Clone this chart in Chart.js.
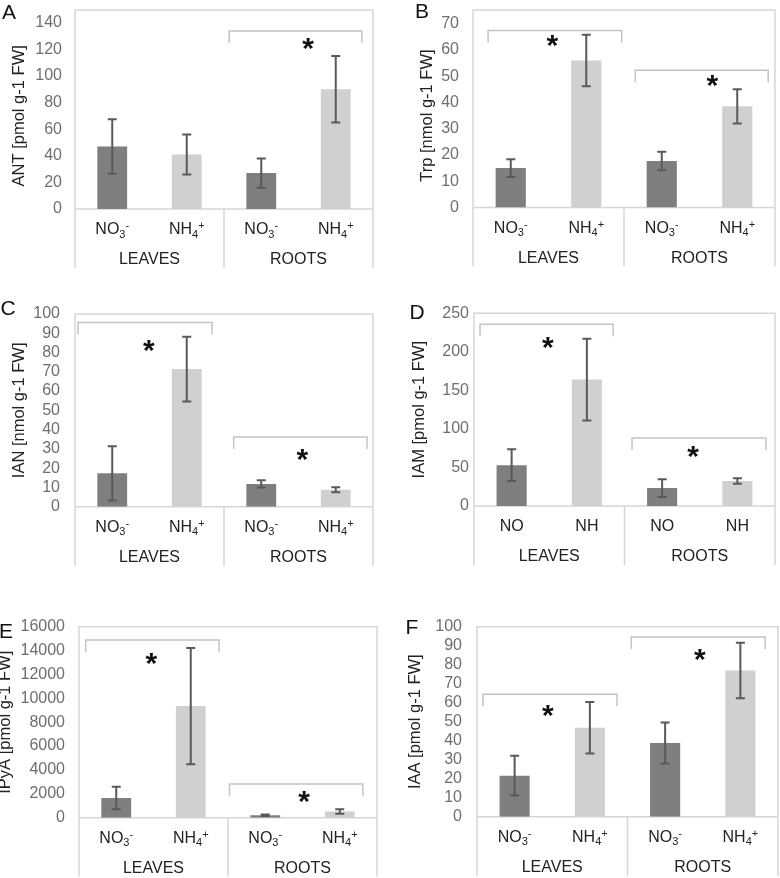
<!DOCTYPE html>
<html><head><meta charset="utf-8">
<script src="https://cdn.jsdelivr.net/npm/chart.js@4.4.1/dist/chart.umd.min.js"></script>
<style>
html,body{margin:0;padding:0;background:#fff;width:780px;height:878px;overflow:hidden}
canvas{position:absolute;left:0;top:0}
</style></head><body>
<canvas id="cA" width="780" height="878"></canvas>
<canvas id="cB" width="780" height="878"></canvas>
<canvas id="cC" width="780" height="878"></canvas>
<canvas id="cD" width="780" height="878"></canvas>
<canvas id="cE" width="780" height="878"></canvas>
<canvas id="cF" width="780" height="878"></canvas>
<script>
// ---- data ----
const categories = ['NO3-', 'NH4+', 'NO3-', 'NH4+'];
const categoriesD = ['NO', 'NH', 'NO', 'NH'];
const groups = ['LEAVES', 'ROOTS'];

const antMean = [47, 41, 27, 90];
const antErr = [20.5, 15, 11, 25];
const trpMean = [15, 56, 17.7, 38.5];
const trpErr = [3.4, 9.8, 3.5, 6.5];
const ianMean = [17.3, 71.4, 11.8, 8.8];
const ianErr = [14.1, 16.8, 1.9, 1.3];
const iamMean = [53, 164, 23.3, 32.4];
const iamErr = [20.5, 53, 11.5, 3.5];
const ipyaMean = [1650, 9350, 200, 520];
const ipyaErr = [950, 4870, 60, 180];
const iaaMean = [21.6, 46.8, 38.8, 77];
const iaaErr = [10.5, 13.6, 10.8, 14.6];

const ticksA = [0, 20, 40, 60, 80, 100, 120, 140];
const ticksB = [0, 10, 20, 30, 40, 50, 60, 70];
const ticksC = [0, 10, 20, 30, 40, 50, 60, 70, 80, 90, 100];
const ticksD = [0, 50, 100, 150, 200, 250];
const ticksE = [0, 2000, 4000, 6000, 8000, 10000, 12000, 14000, 16000];
const ticksF = [0, 10, 20, 30, 40, 50, 60, 70, 80, 90, 100];

// significance brackets [fromIndex, toIndex, yValue] and stars [xIndex, yValue]
const bracketsA = [[1.57, 3.35, 133.7]];
const starsA = [[2.63, 123.8]];
const bracketsB = [[-0.30, 1.47, 67.4], [1.65, 3.41, 52.2]];
const starsB = [[0.55, 63.2], [2.67, 48.1]];
const bracketsC = [[-0.46, 1.34, 95.6], [1.63, 3.42, 36.2]];
const starsC = [[0.49, 83.2], [2.55, 26.7]];
const bracketsD = [[-0.42, 1.35, 235.7], [1.60, 3.38, 88.2]];
const starsD = [[0.48, 211], [2.41, 69.7]];
const bracketsE = [[-0.41, 1.38, 14886], [1.52, 3.31, 2823]];
const starsE = [[0.47, 13270], [2.52, 1759]];
const bracketsF = [[-0.42, 1.36, 64.4], [1.55, 3.33, 94.6]];
const starsF = [[0.44, 55.8], [2.46, 85.1]];

// ---- styling / layout ----
const FONT = '"Liberation Sans", Arial, Helvetica, sans-serif';
const DARK = '#7f7f7f', LIGHT = '#d0d0d0';
const FRAME = '#d6d6d6', BRACKET = '#c4c4c4', ERR = '#595959';

const panels = [
  {id:'cA', mean:antMean, err:antErr, ticks:ticksA, cats:categories, title:'ANT [pmol g-1 FW]', letter:'A',
   L:75, R:373, T:10, Y0:209, tickPad:13, titleX:19, lx:9, ly:13, brackets:bracketsA, stars:starsA},
  {id:'cB', mean:trpMean, err:trpErr, ticks:ticksB, cats:categories, title:'Trp [nmol g-1 FW]', letter:'B',
   L:473, R:775, T:10, Y0:207.5, tickPad:14, titleX:427, lx:422, ly:12, brackets:bracketsB, stars:starsB},
  {id:'cC', mean:ianMean, err:ianErr, ticks:ticksC, cats:categories, title:'IAN [nmol g-1 FW]', letter:'C',
   L:75, R:373, T:314, Y0:506.7, tickPad:15, titleX:19, lx:8, ly:309, brackets:bracketsC, stars:starsC},
  {id:'cD', mean:iamMean, err:iamErr, ticks:ticksD, cats:categoriesD, title:'IAM [pmol g-1 FW]', letter:'D',
   L:474, R:775, T:313.3, Y0:506, tickPad:5, titleX:419, lx:417, ly:313, brackets:bracketsD, stars:starsD},
  {id:'cE', mean:ipyaMean, err:ipyaErr, ticks:ticksE, cats:categories, title:'IPyA [pmol g-1 FW]', letter:'E',
   L:79, R:377, T:626.7, Y0:817.7, tickPad:14, titleX:5, lx:6, ly:632, brackets:bracketsE, stars:starsE},
  {id:'cF', mean:iaaMean, err:iaaErr, ticks:ticksF, cats:categories, title:'IAA [pmol g-1 FW]', letter:'F',
   L:477, R:778, T:626.7, Y0:816.7, tickPad:15, titleX:415, lx:412, ly:628, brackets:bracketsF, stars:starsF}
];

function drawCatLabel(ctx, text, cx, baseY) {
  const m = text.match(/^([A-Za-z]+)(\d*)([+-]?)$/);
  const main = m[1], sub = m[2], sup = m[3];
  const big = '16px ' + FONT, small = '11px ' + FONT;
  ctx.font = big; const wm = ctx.measureText(main).width;
  ctx.font = small;
  const ws = sub ? ctx.measureText(sub).width : 0;
  const wp = sup ? ctx.measureText(sup).width : 0;
  const total = wm + ws + wp;
  let x = cx - total / 2;
  ctx.textAlign = 'left'; ctx.textBaseline = 'alphabetic';
  ctx.font = big; ctx.fillText(main, x, baseY); x += wm;
  ctx.font = small;
  if (sub) { ctx.fillText(sub, x, baseY + 3.5); x += ws; }
  if (sup) { ctx.fillText(sup, x, baseY - 5); }
}

const panelPlugin = {
  id: 'panelDecor',
  beforeDatasetsDraw(chart, args, o) {
    const p = o.p, ctx = chart.ctx;
    const bottom = Math.min(p.Y0 + 59, 878);
    ctx.save();
    ctx.strokeStyle = FRAME; ctx.lineWidth = 1.5;
    ctx.beginPath();
    ctx.moveTo(p.L, bottom); ctx.lineTo(p.L, p.T); ctx.lineTo(p.R, p.T); ctx.lineTo(p.R, bottom);
    ctx.moveTo(p.L, p.Y0); ctx.lineTo(p.R, p.Y0);
    const mid = (p.L + p.R) / 2;
    ctx.moveTo(mid, p.Y0); ctx.lineTo(mid, bottom);
    ctx.stroke();
    ctx.restore();
  },
  afterDatasetsDraw(chart, args, o) {
    const p = o.p, ctx = chart.ctx;
    const xs = chart.scales.x, ys = chart.scales.y;
    ctx.save();
    // error bars
    ctx.strokeStyle = ERR; ctx.lineWidth = 2;
    p.mean.forEach((v, i) => {
      const x = xs.getPixelForValue(i);
      const yt = ys.getPixelForValue(v + p.err[i]);
      const yb = ys.getPixelForValue(v - p.err[i]);
      ctx.beginPath();
      ctx.moveTo(x, yt); ctx.lineTo(x, yb);
      ctx.moveTo(x - 4.5, yt); ctx.lineTo(x + 4.5, yt);
      ctx.moveTo(x - 4.5, yb); ctx.lineTo(x + 4.5, yb);
      ctx.stroke();
    });
    // brackets
    ctx.strokeStyle = BRACKET; ctx.lineWidth = 1.5;
    p.brackets.forEach(b => {
      const x1 = xs.getPixelForValue(b[0]), x2 = xs.getPixelForValue(b[1]);
      const y = ys.getPixelForValue(b[2]);
      ctx.beginPath();
      ctx.moveTo(x1, y + 12); ctx.lineTo(x1, y); ctx.lineTo(x2, y); ctx.lineTo(x2, y + 12);
      ctx.stroke();
    });
    // stars
    ctx.fillStyle = '#111';
    ctx.font = 'bold 30px ' + FONT;
    ctx.textAlign = 'center'; ctx.textBaseline = 'alphabetic';
    const mm = ctx.measureText('*');
    const off = (mm.actualBoundingBoxDescent - mm.actualBoundingBoxAscent) / 2;
    p.stars.forEach(s => {
      const x = xs.getPixelForValue(s[0]);
      const y = ys.getPixelForValue(s[1]);
      ctx.fillText('*', x, y - off);
    });
    // category labels
    ctx.fillStyle = '#222';
    p.cats.forEach((c, i) => {
      drawCatLabel(ctx, c, xs.getPixelForValue(i), p.Y0 + 25);
    });
    ctx.font = '16px ' + FONT;
    ctx.textAlign = 'center'; ctx.textBaseline = 'alphabetic';
    groups.forEach((g, gi) => {
      ctx.fillText(g, xs.getPixelForValue(gi * 2 + 0.5), p.Y0 + 55);
    });
    // panel letter
    ctx.font = '21px ' + FONT;
    ctx.textBaseline = 'middle';
    ctx.fillStyle = '#111';
    ctx.fillText(p.letter, p.lx, p.ly);
    ctx.restore();
  }
};

panels.forEach(p => {
  const ticks = p.ticks;
  new Chart(document.getElementById(p.id), {
    type: 'bar',
    data: {
      labels: p.cats,
      datasets: [{
        data: p.mean,
        backgroundColor: [DARK, LIGHT, DARK, LIGHT],
        borderWidth: 0,
        barPercentage: 0.4,
        categoryPercentage: 1.0
      }]
    },
    plugins: [panelPlugin],
    options: {
      responsive: false,
      animation: false,
      events: [],
      layout: { padding: { left: 0, top: p.T, right: 780 - p.R, bottom: 878 - p.Y0 } },
      plugins: { legend: { display: false }, tooltip: { enabled: false }, panelDecor: { p } },
      scales: {
        x: { display: false, offset: true },
        y: {
          min: 0, max: ticks[ticks.length - 1],
          afterBuildTicks: s => { s.ticks = ticks.map(v => ({ value: v })); },
          afterFit: s => { s.width = p.L; },
          grid: { display: false, drawTicks: false },
          border: { display: false },
          ticks: { padding: p.tickPad, color: '#6e6e6e', font: { family: FONT, size: 16 },
                   autoSkip: false, maxRotation: 0, callback: v => String(v) },
          title: { display: true, text: p.title, color: '#222',
                   font: { family: FONT, size: 16.5 }, padding: { top: p.titleX - 9.9, bottom: 0 } }
        }
      }
    }
  });
});
</script>
</body></html>
